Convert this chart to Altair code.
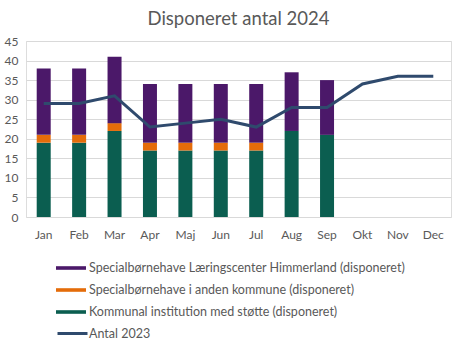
import altair as alt
import pandas as pd

months = ["Jan", "Feb", "Mar", "Apr", "Maj", "Jun", "Jul", "Aug", "Sep", "Okt", "Nov", "Dec"]
bar_months = months[:9]
laering = [17, 17, 17, 15, 15, 15, 15, 15, 14]
anden = [2, 2, 2, 2, 2, 2, 2, 0, 0]
kommunal = [19, 19, 22, 17, 17, 17, 17, 22, 21]
antal_2023 = [29, 29, 31, 23, 24, 25, 23, 28, 28, 34, 36, 36]

s_laer = "Specialbørnehave Læringscenter Himmerland (disponeret)"
s_anden = "Specialbørnehave i anden kommune (disponeret)"
s_komm = "Kommunal institution med støtte (disponeret)"
s_line = "Antal 2023"

rows = []
for i, m in enumerate(bar_months):
    rows.append({"måned": m, "serie": s_komm, "antal": kommunal[i], "ord": 0})
    rows.append({"måned": m, "serie": s_anden, "antal": anden[i], "ord": 1})
    rows.append({"måned": m, "serie": s_laer, "antal": laering[i], "ord": 2})
bars_df = pd.DataFrame(rows)
line_df = pd.DataFrame({"måned": months, "antal": antal_2023, "serie": s_line})

FONT = "Lato"
GRAY = "#595959"

x = alt.X("måned:N", sort=months, scale=alt.Scale(domain=months, paddingInner=0, paddingOuter=0),
          axis=alt.Axis(title=None, labelAngle=0, ticks=False, domain=False, grid=False,
                        labelPadding=12, labelFontSize=12, labelColor=GRAY, labelFont=FONT))
y_axis = alt.Axis(title=None, values=list(range(0, 50, 5)), ticks=False, domain=False,
                  gridColor="#d9d9d9", gridWidth=1, labelPadding=8, labelFontSize=12,
                  labelColor=GRAY, labelFont=FONT)

bars = alt.Chart(bars_df).mark_bar(size=14).encode(
    x=x,
    y=alt.Y("antal:Q", stack="zero", scale=alt.Scale(domain=[0, 45], nice=False), axis=y_axis),
    color=alt.Color("serie:N",
                    scale=alt.Scale(domain=[s_laer, s_anden, s_komm],
                                    range=["#4B1869", "#E46C0A", "#0B5E50"]),
                    legend=alt.Legend(title=None, orient="none", legendX=30, legendY=212,
                                      symbolType="M-1,-0.12H1V0.12H-1Z", symbolSize=900,
                                      symbolStrokeWidth=0, labelFontSize=12.5, labelFont=FONT,
                                      labelColor=GRAY, rowPadding=-7, labelOffset=3,
                                      labelLimit=400)),
    order=alt.Order("ord:Q"),
)

line = alt.Chart(line_df).mark_line(strokeWidth=3).encode(
    x=x,
    y=alt.Y("antal:Q", scale=alt.Scale(domain=[0, 45], nice=False), axis=y_axis),
    stroke=alt.Stroke("serie:N", scale=alt.Scale(domain=[s_line], range=["#2F4A6D"]),
                      legend=alt.Legend(title=None, orient="none", legendX=30, legendY=276,
                                        symbolType="stroke", symbolSize=900, symbolStrokeWidth=3,
                                        labelFontSize=12.5, labelFont=FONT, labelColor=GRAY,
                                        labelOffset=0, labelLimit=400)),
)

chart = alt.layer(bars, line).resolve_scale(color="independent", stroke="independent").properties(
    width=425, height=176,
    title=alt.Title("Disponeret antal 2024", fontSize=18.5, font=FONT, color=GRAY,
                    fontWeight="normal", anchor="middle", offset=7),
    autosize=alt.AutoSizeParams(type="none"),
    padding={"left": 26, "top": 41, "right": 8, "bottom": 137},
).configure_view(stroke=None).configure(background="white")

chart.save("out.html", embed_options={"renderer": "svg", "actions": False})
